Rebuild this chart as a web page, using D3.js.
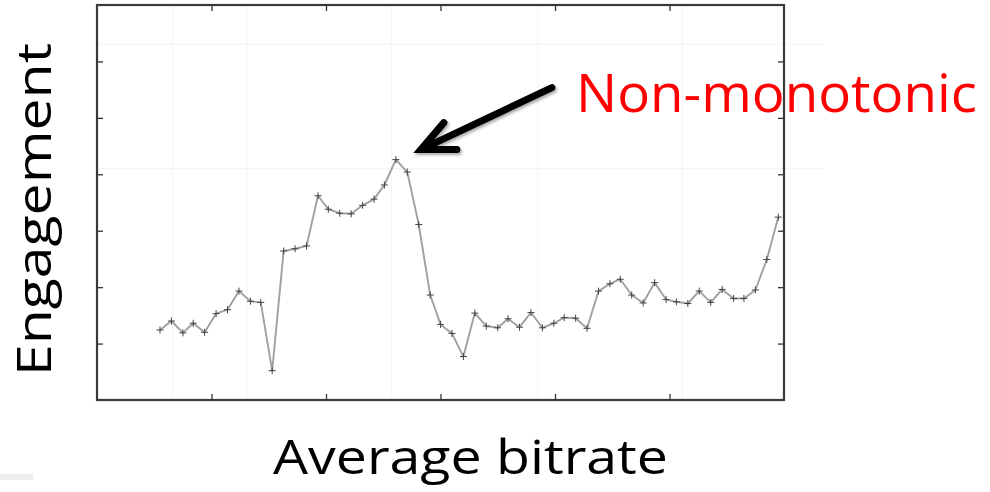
<!DOCTYPE html>
<html>
<head>
<meta charset="utf-8">
<script src="https://cdn.jsdelivr.net/npm/d3@7"></script>
<style>
  html, body { margin: 0; padding: 0; background: #fff; }
  svg { display: block; }
</style>
</head>
<body>
<svg id="chart" width="990" height="492"></svg>
<script>
// ---- data ----
const xValues = [0.55,0.65,0.75,0.84,0.94,1.04,1.14,1.24,1.34,1.43,1.53,1.63,1.73,1.83,1.93,2.02,2.12,2.22,2.32,2.42,2.51,2.61,2.71,2.81,2.91,3.00,3.10,3.20,3.30,3.40,3.50,3.59,3.69,3.79,3.89,3.99,4.08,4.18,4.28,4.38,4.48,4.57,4.67,4.77,4.87,4.97,5.06,5.16,5.26,5.36,5.46,5.56,5.65,5.75,5.85,5.95];
const engagement = [1.24,1.40,1.19,1.36,1.20,1.53,1.60,1.93,1.75,1.73,0.52,2.64,2.68,2.73,3.62,3.38,3.31,3.30,3.45,3.56,3.81,4.26,4.04,3.11,1.86,1.34,1.18,0.77,1.54,1.31,1.28,1.44,1.29,1.55,1.28,1.36,1.46,1.45,1.27,1.93,2.06,2.14,1.86,1.72,2.08,1.78,1.74,1.71,1.93,1.73,1.96,1.80,1.80,1.95,2.49,3.24];
const xTicks = [1, 2, 3, 4, 5];
const yTicks = [1, 2, 3, 4, 5, 6];
const xDomain = [0, 6];
const yDomain = [0, 7];
const bgGridX = [0.66, 1.31, 2.57, 3.85, 5.11];
const bgGridY = [6.3, 4.1];
const xLabel = "Average bitrate";
const yLabel = "Engagement";
const annotation = "Non-monotonic";

(function () {
// ---- layout ----
const svg = d3.select("#chart");
const mLeft = 97, mRight = 784, mTop = 5, mBottom = 400;
const x = d3.scaleLinear().domain(xDomain).range([mLeft, mRight]);
const y = d3.scaleLinear().domain(yDomain).range([mBottom, mTop]);

// faint background grid (slide artefact)
svg.append("g").selectAll("line").data(bgGridX).join("line")
  .attr("x1", d => x(d)).attr("x2", d => x(d))
  .attr("y1", mTop).attr("y2", mBottom)
  .attr("stroke", "#f3f3f3").attr("stroke-width", 1);
svg.append("g").selectAll("line").data(bgGridY).join("line")
  .attr("x1", mLeft).attr("x2", 825)
  .attr("y1", d => y(d)).attr("y2", d => y(d))
  .attr("stroke", "#f3f3f3").attr("stroke-width", 1);

// axes with inward ticks on all four sides, no labels
const tl = 6;
svg.append("g").attr("transform", `translate(0,${mBottom})`)
  .call(d3.axisTop(x).tickValues(xTicks).tickSize(tl).tickFormat(""));
svg.append("g").attr("transform", `translate(0,${mTop})`)
  .call(d3.axisBottom(x).tickValues(xTicks).tickSize(tl).tickFormat(""));
svg.append("g").attr("transform", `translate(${mLeft},0)`)
  .call(d3.axisRight(y).tickValues(yTicks).tickSize(tl).tickFormat(""));
svg.append("g").attr("transform", `translate(${mRight},0)`)
  .call(d3.axisLeft(y).tickValues(yTicks).tickSize(tl).tickFormat(""));
svg.selectAll(".domain").remove();
svg.selectAll(".tick line").attr("stroke", "#333").attr("stroke-width", 1.3);

// frame
svg.append("rect")
  .attr("x", mLeft).attr("y", mTop)
  .attr("width", mRight - mLeft).attr("height", mBottom - mTop)
  .attr("fill", "none").attr("stroke", "#3a3a3a").attr("stroke-width", 2.2);

// data line
const pts = xValues.map((v, i) => [v, engagement[i]]);
svg.append("path")
  .datum(pts)
  .attr("fill", "none")
  .attr("stroke", "#a0a0a0")
  .attr("stroke-width", 1.9)
  .attr("stroke-linejoin", "round")
  .attr("d", d3.line().x(d => x(d[0])).y(d => y(d[1])));

// plus markers
svg.append("g").selectAll("path").data(pts).join("path")
  .attr("transform", d => `translate(${x(d[0])},${y(d[1])})`)
  .attr("d", "M-3.5,0H3.5M0,-3.5V3.5")
  .attr("stroke", "#444")
  .attr("stroke-width", 1)
  .attr("fill", "none");

// arrow annotation, anchored to the peak
const peakIdx = d3.maxIndex(engagement);
const px = x(xValues[peakIdx]), py = y(engagement[peakIdx]);
const tip = [px + 25, py - 10];
const tail = [tip[0] + 131, tip[1] - 62];
const w1 = [tip[0] + 23, tip[1] - 27];
const w2 = [tip[0] + 36, tip[1] + 0];
const defs = svg.append("defs");
const f = defs.append("filter").attr("id", "sh").attr("x", "-20%").attr("y", "-20%").attr("width", "140%").attr("height", "140%");
f.append("feDropShadow").attr("dx", 1.5).attr("dy", 2).attr("stdDeviation", 1.5).attr("flood-color", "#000").attr("flood-opacity", 0.35);
svg.append("path")
  .attr("d", `M${tail[0]},${tail[1]}L${tip[0]+2},${tip[1]-1}M${w1[0]},${w1[1]}L${tip[0]},${tip[1]}L${w2[0]},${w2[1]}`)
  .attr("fill", "none")
  .attr("stroke", "#000")
  .attr("stroke-width", 7)
  .attr("stroke-linecap", "round")
  .attr("stroke-linejoin", "miter")
  .attr("filter", "url(#sh)");

// annotation text
svg.append("text")
  .attr("x", 576).attr("y", 112)
  .attr("font-family", "'Open Sans', sans-serif")
  .attr("font-size", 53)
  .attr("fill", "#ff0000")
  .attr("textLength", 401)
  .attr("lengthAdjust", "spacingAndGlyphs")
  .text(annotation);

// axis titles
svg.append("text")
  .attr("x", 273).attr("y", 474)
  .attr("font-family", "'Open Sans', sans-serif")
  .attr("font-size", 47)
  .attr("fill", "#000")
  .attr("textLength", 395)
  .attr("lengthAdjust", "spacingAndGlyphs")
  .text(xLabel);

svg.append("text")
  .attr("transform", "translate(51,376) rotate(-90)")
  .attr("font-family", "'Open Sans', sans-serif")
  .attr("font-size", 47)
  .attr("fill", "#000")
  .attr("textLength", 333)
  .attr("lengthAdjust", "spacingAndGlyphs")
  .text(yLabel);

// small slide artefact bottom-left
svg.append("rect").attr("x", 0).attr("y", 474).attr("width", 33).attr("height", 6).attr("fill", "#ececec");
})();
</script>
</body>
</html>
